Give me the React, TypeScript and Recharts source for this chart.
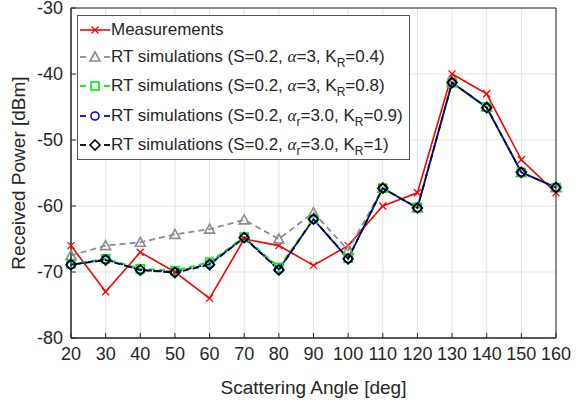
import React from 'react'
import { LineChart, Line, XAxis, YAxis, CartesianGrid, Legend, ReferenceArea } from 'recharts'

const angles = [20, 30, 40, 50, 60, 70, 80, 90, 100, 110, 120, 130, 140, 150, 160]
const measured = [-66, -73, -67, -70, -74, -65, -66, -69, -66, -60, -58, -40, -43, -53, -58]
const rtK04 = [-67.5, -66, -65.5, -64.3, -63.5, -62.1, -65, -61, -66.7, -57.3, -60.3, -41.3, -45, -54.9, -57.2]
const rtK08 = [-68.8, -68, -69.5, -69.8, -68.5, -64.7, -69.3, -62, -67.9, -57.3, -60.2, -41.3, -45, -54.9, -57.2]
const rtK09 = [-68.9, -68.1, -69.7, -70, -68.8, -64.8, -69.6, -62, -68, -57.3, -60.3, -41.3, -45.1, -54.9, -57.2]
const rtK1 = [-68.9, -68.2, -69.7, -70.1, -68.9, -64.8, -69.7, -62, -68, -57.3, -60.3, -41.3, -45.1, -54.9, -57.2]
const xTicks = [20, 30, 40, 50, 60, 70, 80, 90, 100, 110, 120, 130, 140, 150, 160]
const yTicks = [-80, -70, -60, -50, -40, -30]

const data = angles.map((a, i) => ({
  angle: a,
  meas: measured[i],
  k04: rtK04[i],
  k08: rtK08[i],
  k09: rtK09[i],
  k1: rtK1[i],
}))

const AXIS = '#262626'
const FONT = '"Liberation Sans", Arial, sans-serif'

type Shape = 'x' | 'tri' | 'sq' | 'circ' | 'diam'

const marker = (shape: Shape, color: string, cx: number, cy: number, key?: string | number) => {
  const sw = 1.3
  switch (shape) {
    case 'x':
      return (
        <g key={key}>
          <line x1={cx - 3.5} y1={cy - 3.5} x2={cx + 3.5} y2={cy + 3.5} stroke={color} strokeWidth={sw} />
          <line x1={cx - 3.5} y1={cy + 3.5} x2={cx + 3.5} y2={cy - 3.5} stroke={color} strokeWidth={sw} />
        </g>
      )
    case 'tri':
      return <polygon key={key} points={`${cx},${cy - 5} ${cx - 5},${cy + 4} ${cx + 5},${cy + 4}`} fill="none" stroke={color} strokeWidth={1.6} />
    case 'sq':
      return <rect key={key} x={cx - 4} y={cy - 4} width={8} height={8} fill="none" stroke={color} strokeWidth={1.6} />
    case 'circ':
      return <circle key={key} cx={cx} cy={cy} r={4} fill="none" stroke={color} strokeWidth={1.6} />
    default:
      return <polygon key={key} points={`${cx},${cy - 5} ${cx + 5},${cy} ${cx},${cy + 5} ${cx - 5},${cy}`} fill="none" stroke={color} strokeWidth={1.6} />
  }
}

const dotFn = (shape: Shape, color: string) => (props: any) => marker(shape, color, props.cx, props.cy, props.index)

const subStyle: React.CSSProperties = { fontSize: 12, verticalAlign: -5, lineHeight: 0 }
const alpha = (sub?: string) => (
  <>
    <span style={{ fontFamily: '"Liberation Serif", serif', fontStyle: 'italic' }}>α</span>
    {sub ? <sub style={subStyle}>{sub}</sub> : null}
  </>
)
const KR = (
  <>
    K<sub style={subStyle}>R</sub>
  </>
)

const legendRows: { shape: Shape; color: string; dashed: boolean; text: React.ReactNode }[] = [
  { shape: 'x', color: '#ff0000', dashed: false, text: 'Measurements' },
  { shape: 'tri', color: '#8c8c8c', dashed: true, text: <>RT simulations (S=0.2, {alpha()}=3, {KR}=0.4)</> },
  { shape: 'sq', color: '#00ee00', dashed: true, text: <>RT simulations (S=0.2, {alpha()}=3, {KR}=0.8)</> },
  { shape: 'circ', color: '#0000ff', dashed: true, text: <>RT simulations (S=0.2, {alpha('r')}=3.0, {KR}=0.9)</> },
  { shape: 'diam', color: '#000000', dashed: true, text: <>RT simulations (S=0.2, {alpha('r')}=3.0, {KR}=1)</> },
]

const LegendBox = () => (
  <div
    style={{
      width: 333,
      height: 145,
      boxSizing: 'border-box',
      border: '1px solid #555',
      background: '#fff',
      fontFamily: FONT,
      fontSize: 17,
      color: '#262626',
      paddingTop: 2,
    }}
  >
    {legendRows.map((r, i) => (
      <div key={i} style={{ display: 'flex', alignItems: 'center', height: i === 0 ? 24 : 29.5, whiteSpace: 'nowrap' }}>
        <svg width={33} height={14} style={{ flex: 'none' }}>
          {r.dashed ? (
            <>
              <line x1={2} y1={7} x2={8} y2={7} stroke={r.color} strokeWidth={1.8} />
              <line x1={26} y1={7} x2={32} y2={7} stroke={r.color} strokeWidth={1.8} />
            </>
          ) : (
            <line x1={2} y1={7} x2={32} y2={7} stroke={r.color} strokeWidth={1.6} />
          )}
          {marker(r.shape, r.color, 17, 7)}
        </svg>
        <span>{r.text}</span>
      </div>
    ))}
  </div>
)

export default function App() {
  return (
    <div style={{ position: 'absolute', left: 0, top: 0, width: 586, height: 400, background: '#fff' }}>
      <LineChart width={586} height={400} data={data} margin={{ top: 8, right: 30, left: 0, bottom: 0 }}>
        <CartesianGrid stroke="#e3e3e3" strokeWidth={1} />
        <ReferenceArea x1={20} x2={160} y1={-80} y2={-30} fill="none" stroke={AXIS} strokeWidth={1} ifOverflow="visible" />
        <XAxis
          dataKey="angle"
          type="number"
          domain={[20, 160]}
          ticks={xTicks}
          interval={0}
          height={62}
          stroke={AXIS}
          tickSize={-5}
          tickMargin={14}
          tick={{ fill: AXIS, fontSize: 18, fontFamily: FONT }}
          label={{ value: 'Scattering Angle [deg]', position: 'insideBottom', offset: 6, fill: AXIS, fontSize: 19, fontFamily: FONT }}
        />
        <YAxis
          type="number"
          domain={[-80, -30]}
          ticks={yTicks}
          interval={0}
          width={71}
          stroke={AXIS}
          tickSize={-5}
          tickMargin={13}
          tick={{ fill: AXIS, fontSize: 18, fontFamily: FONT }}
          label={{ value: 'Received Power [dBm]', angle: -90, position: 'insideLeft', offset: 18, style: { textAnchor: 'middle' }, fill: AXIS, fontSize: 19, fontFamily: FONT }}
        />
        <Legend
          layout="horizontal"
          verticalAlign="middle"
          align="center"
          content={() => <LegendBox />}
          wrapperStyle={{ position: 'absolute', left: 77, top: 15, width: 333 }}
        />
        <Line dataKey="meas" stroke="#ff0000" strokeWidth={1.6} dot={dotFn('x', '#ff0000')} isAnimationActive={false} />
        <Line dataKey="k04" stroke="#8c8c8c" strokeWidth={1.8} strokeDasharray="6 4" dot={dotFn('tri', '#8c8c8c')} isAnimationActive={false} />
        <Line dataKey="k08" stroke="#00ee00" strokeWidth={1.8} strokeDasharray="6 4" dot={dotFn('sq', '#00ee00')} isAnimationActive={false} />
        <Line dataKey="k09" stroke="#0000ff" strokeWidth={1.8} strokeDasharray="6 4" strokeDashoffset={3} dot={dotFn('circ', '#0000ff')} isAnimationActive={false} />
        <Line dataKey="k1" stroke="#000000" strokeWidth={1.8} strokeDasharray="6 4" strokeDashoffset={6} dot={dotFn('diam', '#000000')} isAnimationActive={false} />
      </LineChart>
    </div>
  )
}
